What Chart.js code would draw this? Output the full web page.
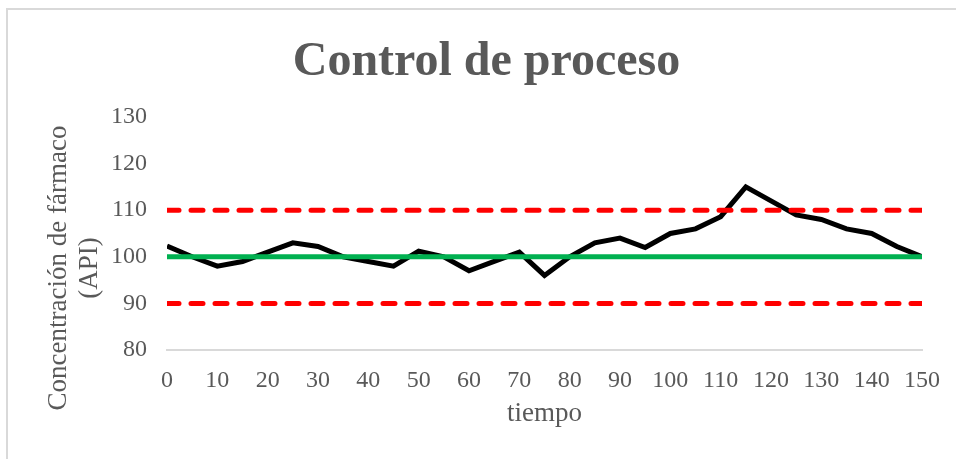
<!DOCTYPE html>
<html lang="es">
<head>
<meta charset="utf-8">
<script src="https://cdn.jsdelivr.net/npm/chart.js@4/dist/chart.umd.min.js"></script>
<style>
  html, body { margin: 0; padding: 0; background: #ffffff; }
  #wrap { position: relative; width: 956px; height: 459px; overflow: hidden; }
  #frame { position: absolute; left: 6px; top: 8px; width: 1000px; height: 500px;
           border: 2px solid #d9d9d9; box-sizing: border-box; }
  #chart { position: absolute; left: 0; top: 0; }
</style>
</head>
<body>
<div id="wrap">
  <div id="frame"></div>
  <canvas id="chart" width="956" height="459"></canvas>
</div>
<script>
// Tiempo de muestreo y concentración medida
const tiempo = [0, 5, 10, 15, 20, 25, 30, 35, 40, 45, 50, 55, 60, 65, 70, 75,
                80, 85, 90, 95, 100, 105, 110, 115, 120, 125, 130, 135, 140, 145, 150];
const concentracion = [102.3, 100, 98, 99, 101, 103, 102.2, 100, 99, 98, 101.2, 100, 97, 99, 101, 96,
                       100, 103, 104, 102, 105, 106, 108.6, 115, 112, 109, 108, 106, 105, 102.2, 100];

// Límites de control
const limiteSuperior = 110;
const lineaCentral = 100;
const limiteInferior = 90;
const rangoTiempo = [0, 150];

// Textos
const tituloGrafico = 'Control de proceso';
const tituloEjeX = 'tiempo';
const tituloEjeY = ['Concentración de fármaco', '(API)'];

const serif = '"Times New Roman", "Liberation Serif", serif';
const gris = '#595959';

const puntos = tiempo.map((t, i) => ({ x: t, y: concentracion[i] }));
const horizontal = v => rangoTiempo.map(t => ({ x: t, y: v }));

// Título del eje vertical, girado y en dos líneas
const tituloVertical = {
  id: 'tituloVertical',
  afterDraw(chart) {
    const ctx = chart.ctx;
    ctx.save();
    ctx.fillStyle = gris;
    ctx.font = '27px ' + serif;
    ctx.textAlign = 'center';
    ctx.textBaseline = 'alphabetic';
    ctx.translate(66, 268);
    ctx.rotate(-Math.PI / 2);
    tituloEjeY.forEach((linea, i) => ctx.fillText(linea, 0, i * 30.5));
    ctx.restore();
  }
};

new Chart(document.getElementById('chart'), {
  type: 'line',
  data: {
    datasets: [
      { label: 'LSC', data: horizontal(limiteSuperior), borderColor: '#ff0000', borderWidth: 5,
        borderDash: [12, 12], borderCapStyle: 'round', pointRadius: 0, order: 0 },
      { label: 'LIC', data: horizontal(limiteInferior), borderColor: '#ff0000', borderWidth: 5,
        borderDash: [12, 12], borderCapStyle: 'round', pointRadius: 0, order: 0 },
      { label: 'Media', data: horizontal(lineaCentral), borderColor: '#00b050', borderWidth: 5,
        pointRadius: 0, order: 1 },
      { label: 'API', data: puntos, borderColor: '#000000', borderWidth: 5,
        borderJoinStyle: 'miter', pointRadius: 0, tension: 0, order: 2 }
    ]
  },
  plugins: [tituloVertical],
  options: {
    responsive: false,
    animation: false,
    layout: { padding: { left: 20, right: 3, top: 0, bottom: 0 } },
    plugins: {
      legend: { display: false },
      tooltip: { enabled: false },
      title: {
        display: true,
        text: tituloGrafico,
        color: gris,
        font: { family: serif, size: 48, weight: 'bold', lineHeight: 1.2 },
        padding: { top: 34.2, bottom: 25.2 }
      }
    },
    scales: {
      x: {
        type: 'linear',
        min: 0, max: 150,
        ticks: { stepSize: 10, color: gris, padding: 16, maxRotation: 0,
                 font: { family: serif, size: 24 } },
        grid: { display: false, drawTicks: false, tickLength: 0 },
        border: { display: true, color: '#d9d9d9', width: 2 },
        title: { display: true, text: tituloEjeX, color: gris,
                 font: { family: serif, size: 27, lineHeight: 1.2 },
                 padding: { top: 0, bottom: 29 } },
        afterFit: s => { s.height = 459 - 350; }
      },
      y: {
        min: 80, max: 130,
        ticks: { stepSize: 10, color: gris, padding: 20,
                 font: { family: serif, size: 24 } },
        grid: { display: false, drawTicks: false, tickLength: 0 },
        border: { display: false },
        afterFit: s => { s.width = 167 - 20; }
      },
      // margen derecho del área de trazado
      yDerecho: {
        position: 'right',
        min: 80, max: 130,
        ticks: { display: false },
        grid: { display: false, drawTicks: false },
        border: { display: false },
        afterFit: s => { s.width = 31; }
      }
    }
  }
});
</script>
</body>
</html>
